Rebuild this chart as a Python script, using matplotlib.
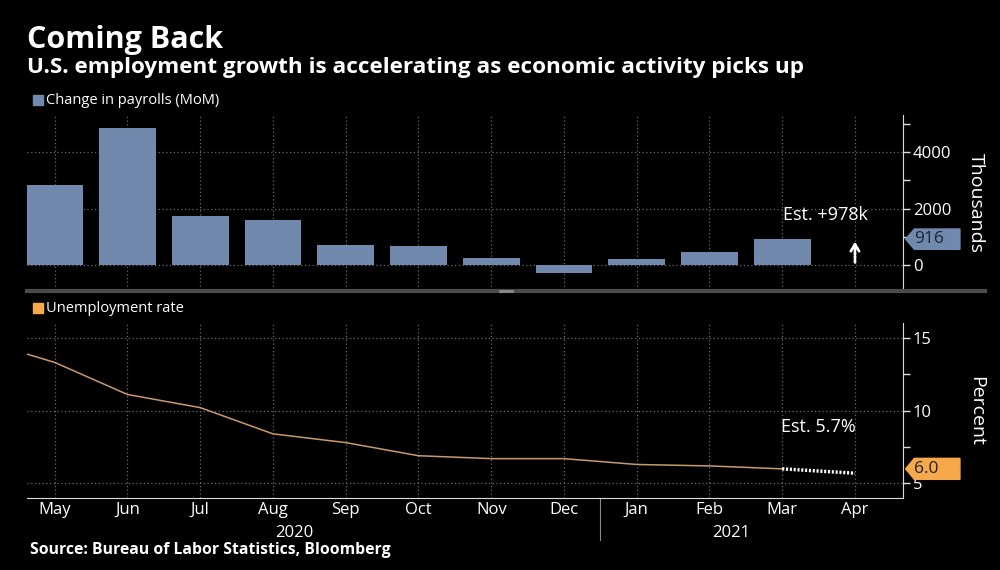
import numpy as np
import matplotlib.pyplot as plt
import matplotlib.transforms as mtransforms
from matplotlib.patches import Polygon, Rectangle
from matplotlib.lines import Line2D

plt.rcParams['font.family'] = ['Open Sans', 'DejaVu Sans']

months = ['May', 'Jun', 'Jul', 'Aug', 'Sep', 'Oct', 'Nov', 'Dec', 'Jan', 'Feb', 'Mar', 'Apr']
# change in payrolls, thousands (May 2020 .. Mar 2021)
payrolls = [2820, 4860, 1725, 1580, 710, 675, 240, -290, 220, 460, 916]
payroll_est = 978
# unemployment rate, Apr 2020 .. Mar 2021
unemp = [14.8, 13.3, 11.1, 10.2, 8.4, 7.8, 6.9, 6.7, 6.7, 6.3, 6.2, 6.0]
unemp_est = 5.7

bar_color = '#7189ad'
line_color = '#c99a6c'
orange = '#f6a84a'
grid_color = '#6a6a6a'

fig = plt.figure(figsize=(10, 5.7), dpi=100, facecolor='black')
ax1 = fig.add_axes([0.027, 0.491, 0.876, 0.307])
ax2 = fig.add_axes([0.027, 0.1263, 0.876, 0.307])

x = np.arange(len(months))

for ax in (ax1, ax2):
    ax.set_facecolor('black')
    ax.set_xlim(-0.38, 11.66)
    ax.set_xticks(x)
    for s in ('top', 'left'):
        ax.spines[s].set_visible(False)
    ax.spines['right'].set_color('#dddddd')
    ax.yaxis.tick_right()
    ax.tick_params(axis='y', colors='#dddddd', labelcolor='white', labelsize=12,
                   length=5, width=1, pad=2)
    ax.tick_params(axis='y', which='minor', colors='#dddddd', length=5, width=1)
    ax.grid(True, linestyle=(0, (1, 2)), color=grid_color, linewidth=0.9)
    ax.set_axisbelow(True)
    ax.yaxis.set_label_position('right')

# ---- top panel: payrolls
ax1.bar(x[:len(payrolls)], payrolls, width=0.78, color=bar_color, zorder=2)
ax1.set_ylim(-885, 5300)
ax1.set_yticks([0, 2000, 4000])
ax1.set_yticks([1000, 3000, 5000], minor=True)
ax1.spines['bottom'].set_visible(False)
ax1.tick_params(axis='x', length=0, labelbottom=False)
ax1.annotate('', xy=(x[-1], payroll_est * 0.95), xytext=(x[-1], 0),
             arrowprops=dict(arrowstyle='->,head_length=0.5,head_width=0.3', color='white',
                             lw=2, linestyle=(0, (0.8, 0.6))))
ax1.text(10.6, 1760, 'Est. +978k', color='white', fontsize=13, ha='center', va='center')
ax1.set_ylabel('Thousands', color='white', fontsize=14, rotation=270, va='center')
ax1.yaxis.set_label_coords(1.083, 0.5)

# ---- bottom panel: unemployment rate
ax2.plot(np.arange(-1, len(unemp) - 1), unemp, color=line_color, lw=1.1, zorder=3)
ax2.plot([x[len(unemp) - 2], x[-1]], [unemp[-1], unemp_est], color='white', lw=2.5,
         linestyle=(0, (0.6, 0.5)), zorder=3)
ax2.set_ylim(4, 16)
ax2.set_yticks([5, 10, 15])
ax2.set_yticks([7.5, 12.5], minor=True)
ax2.spines['bottom'].set_color('#dddddd')
ax2.set_xticklabels(months)
ax2.tick_params(axis='x', length=0, labelcolor='white', labelsize=12, pad=3)
ax2.text(10.5, 8.85, 'Est. 5.7%', color='white', fontsize=13, ha='center', va='center')
ax2.set_ylabel('Percent', color='white', fontsize=14, rotation=270, va='center')
ax2.yaxis.set_label_coords(1.083, 0.5)

trans2 = mtransforms.blended_transform_factory(ax2.transData, ax2.transAxes)
ax2.text(3.3, -0.2, '2020', color='white', fontsize=12, ha='center', va='center',
         transform=trans2)
ax2.text(9.3, -0.2, '2021', color='white', fontsize=12, ha='center', va='center',
         transform=trans2)
ax2.add_line(Line2D([7.5, 7.5], [0, -0.24], transform=trans2, color='#888888',
                    lw=0.8, clip_on=False))


# value tags on the right axis
def value_tag(ax, value, half, color, label):
    tr = mtransforms.blended_transform_factory(ax.transAxes, ax.transData)
    pts = [(1.003, value), (1.013, value + half), (1.065, value + half),
           (1.065, value - half), (1.013, value - half)]
    ax.add_patch(Polygon(pts, closed=True, transform=tr, color=color, clip_on=False, zorder=5))
    ax.text(1.013, value, label, transform=tr, color='#1c2535', fontsize=12.5,
            ha='left', va='center', zorder=6)


value_tag(ax1, payrolls[-1], 360, bar_color, '916')
value_tag(ax2, unemp[-1], 0.72, orange, '6.0')

# separator between panels
fig.add_artist(Line2D([0.027, 0.985], [1 - 291 / 570] * 2, color='#4a4a4a', lw=3))
fig.add_artist(Line2D([0.5, 0.512], [1 - 291 / 570] * 2, color='#8a8a8a', lw=2))

# legends
fig.add_artist(Rectangle((0.033, 1 - 105 / 570), 0.01, 10 / 570, color=bar_color))
fig.text(0.046, 1 - 100 / 570, 'Change in payrolls (MoM)', color='white', fontsize=10.5,
         va='center')
fig.add_artist(Rectangle((0.033, 1 - 313 / 570), 0.01, 10 / 570, color=orange))
fig.text(0.046, 1 - 308 / 570, 'Unemployment rate', color='white', fontsize=10.5,
         va='center')

# titles
fig.text(0.027, 1 - 40 / 570, 'Coming Back', color='white', fontsize=22, fontweight='bold',
         va='center')
fig.text(0.027, 1 - 68 / 570,
         'U.S. employment growth is accelerating as economic activity picks up',
         color='white', fontsize=16.2, fontweight='bold', va='center')
fig.text(0.03, 1 - 550 / 570, 'Source: Bureau of Labor Statistics, Bloomberg',
         color='white', fontsize=11.3, fontweight='bold', va='center')

fig.savefig('out.png', dpi=100, facecolor='black')
